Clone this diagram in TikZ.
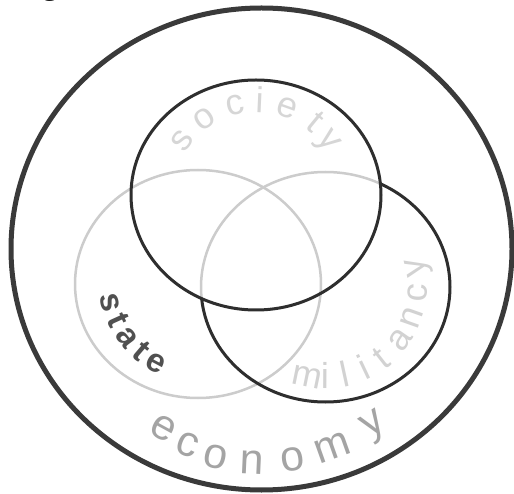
\documentclass[tikz,border=0pt]{standalone}
\usepackage{fontspec}
\setmainfont{Liberation Sans}
\newfontfamily\serifglyph{Liberation Serif}
\definecolor{outerc}{HTML}{3A3A3A}
\definecolor{darkc}{HTML}{2E2E2E}
\definecolor{lightc}{HTML}{CCCCCC}
\definecolor{soctext}{HTML}{D6D6D6}
\definecolor{miltext}{HTML}{D2D2D2}
\definecolor{statetext}{HTML}{505050}
\definecolor{ecotext}{HTML}{A4A4A4}
\begin{document}
\begin{tikzpicture}[x=1pt,y=1pt,
  outerline/.style={draw=outerc, line width=5pt},
  darkline/.style={draw=darkc, line width=3pt},
  lightline/.style={draw=lightc, line width=2.5pt},
  letter/.style={inner sep=0pt, text depth=0pt, anchor=center},
  soclet/.style={letter, text height=19pt, font=\fontsize{36}{36}\selectfont, text=soctext},
  millet/.style={letter, text height=19pt, font=\fontsize{36}{36}\selectfont, text=miltext},
  statelet/.style={letter, text height=17.5pt, font=\fontsize{33}{33}\selectfont\bfseries, text=statetext},
  ecolet/.style={letter, text height=22pt, font=\fontsize{43}{43}\selectfont, text=ecotext}]
\useasboundingbox (0,0) rectangle (514,493);
\fill[white] (0,0) rectangle (514,493);
\coordinate (couter) at (261.5,244);
\coordinate (csoc) at (256,298);
\coordinate (cmil) at (325.5,206);
\coordinate (cstate) at (198,209);
% fragment of a caption letter cut by the top edge
\node[anchor=base, inner sep=0pt, font=\serifglyph\fontsize{32}{32}\selectfont] (capg) at (50,498.5) {g};
% outer circle: economy
\draw[outerline] (couter) ellipse [x radius=250.5, y radius=241];
% state circle
\draw[lightline] (cstate) ellipse [x radius=123, y radius=114];
% militancy circle: light inside society, dark outside
\begin{scope}
  \clip (csoc) ellipse [x radius=125, y radius=115];
  \draw[lightline] (cmil) ellipse [x radius=124.5, y radius=115];
\end{scope}
\begin{scope}[even odd rule]
  \clip (-10,-10) rectangle (524,503) (csoc) ellipse [x radius=125, y radius=115];
  \draw[darkline] (cmil) ellipse [x radius=124.5, y radius=115];
\end{scope}
% society circle
\draw[darkline] (csoc) ellipse [x radius=125, y radius=115];
% labels
\foreach \ch/\ang/\i in {s/143.4/1, o/124.5/2, c/103/3, i/87.5/4, e/70.4/5, t/50.7/6, y/36.7/7}
  \node[soclet, rotate=\ang-90] (soc\i) at ([shift={(\ang:92)}]csoc) {\ch};
\foreach \ch/\ang/\i in {m/-101.6/1, i/-90.3/2, l/-77.7/3, i/-64.7/4, t/-52/5, a/-35/6, n/-19.5/7, c/-3.8/8, y/12.3/9}
  \node[millet, rotate=\ang+90] (mil\i) at ([shift={(\ang:92)}]cmil) {\ch};
\foreach \ch/\ang/\i in {s/192/1, t/204.5/2, a/217/3, t/229.5/4, e/242/5}
  \node[statelet, rotate=\ang+90] (st\i) at ([shift={(\ang:89.5)}]cstate) {\ch};
\foreach \ch/\ang/\r/\i in {e/-118.7/205/1, c/-110.7/210/2, o/-102.4/213/3, n/-92.6/214/4, o/-81.5/213/5, m/-70.4/211/6, y/-57.4/207/7}
  \node[ecolet, rotate=\ang+90] (eco\i) at ([shift={(\ang:\r)}]couter) {\ch};
\end{tikzpicture}
\end{document}
